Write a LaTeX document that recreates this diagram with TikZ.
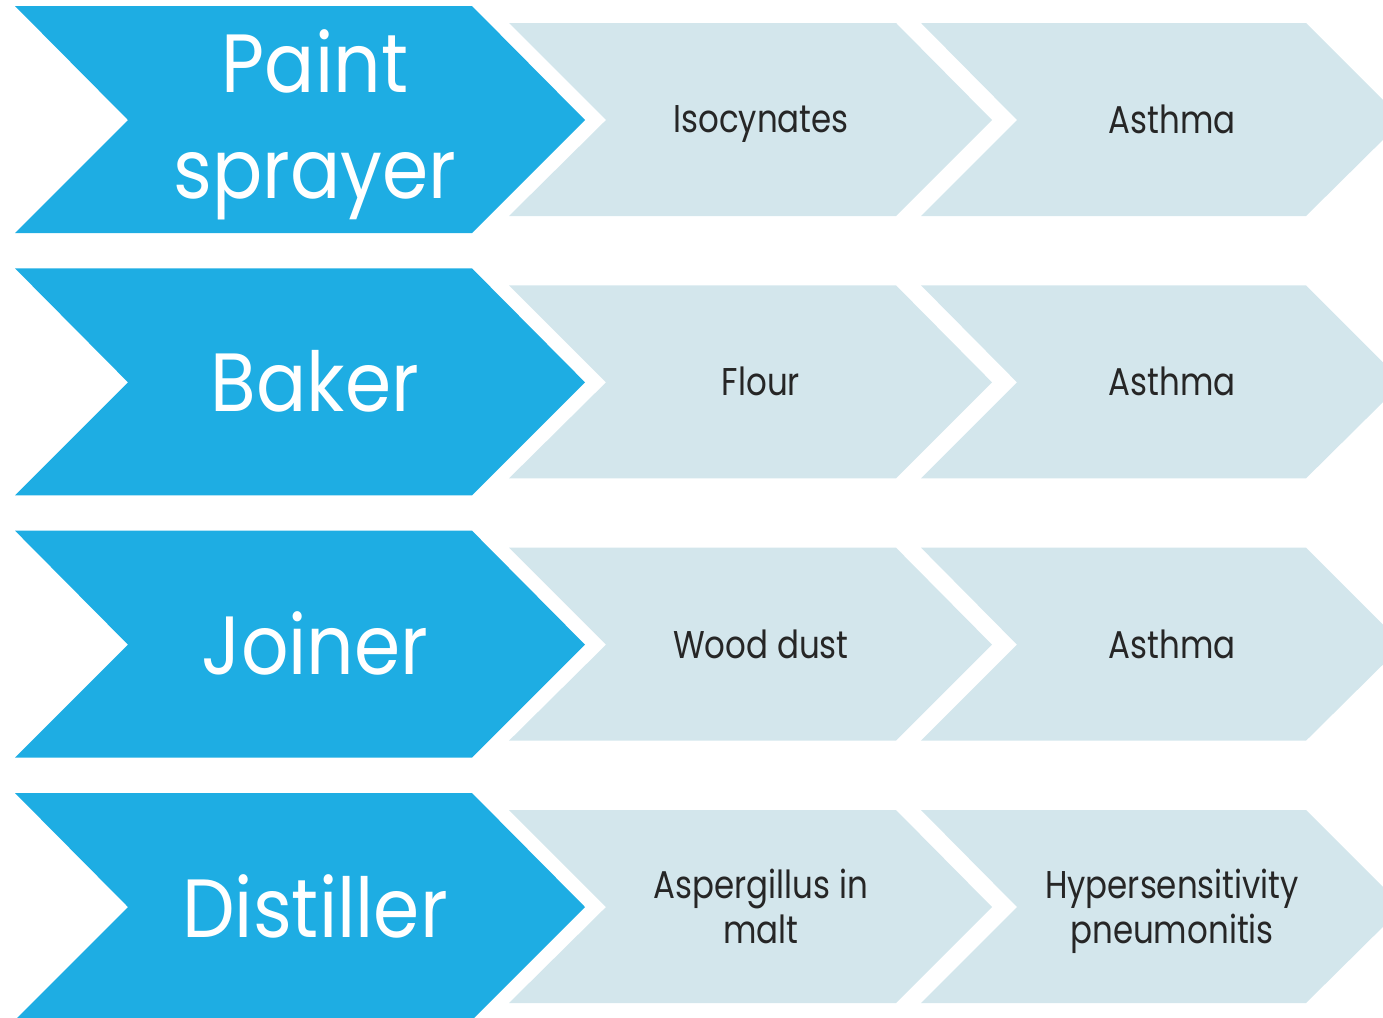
\documentclass[tikz,border=0pt]{standalone}
\usepackage{fontspec}
\setmainfont{Poppins}
\newfontfamily\jobfont{Poppins}[FakeStretch=0.9]
\newfontfamily\itemfont{Poppins}[FakeStretch=0.84]
\definecolor{jobblue}{RGB}{30,173,227}
\definecolor{paleblue}{RGB}{211,230,236}
\definecolor{textgrey}{RGB}{38,38,38}

\begin{document}
\begin{tikzpicture}[x=0.01cm, y=-0.01cm,
        job/.style={text=white, align=center, font=\jobfont\fontsize{23.5}{30.2}\selectfont},
        item/.style={text=textgrey, align=center, font=\itemfont\fontsize{11}{12.8}\selectfont}]
        \useasboundingbox (0,0) rectangle (1383,1017);
        \clip (0,0) rectangle (1383,1017);
        \foreach \job/\agent/\illness/\jy [count=\i from 0] in
            {{Paint\\sprayer}/Isocynates/Asthma/125,
             Baker/Flour/Asthma/119,
             Joiner/Wood dust/Asthma/119,
             Distiller/{Aspergillus in\\malt}/{Hypersensitivity\\pneumonitis}/119}
        {
        \begin{scope}[shift={(0,\i*262.33)}]
            \fill[jobblue] (15,6) -- (472,6) -- (585,120) -- (472,233) -- (15,233) -- (128,120) -- cycle;
            \fill[paleblue] (509,23) -- (896,23) -- (992,120) -- (896,216) -- (509,216) -- (606,120) -- cycle;
            \fill[paleblue] (921,23) -- (1306,23) -- (1403,120) -- (1306,216) -- (921,216) -- (1017,120) -- cycle;
            \node[job] (job\i) at (315,\jy) {\job};
            \node[item] (agent\i) at (761,124) {\agent\vphantom{y}};
            \node[item] (illness\i) at (1172,124) {\illness\vphantom{y}};
        \end{scope}
        }
    \end{tikzpicture}
\end{document}
